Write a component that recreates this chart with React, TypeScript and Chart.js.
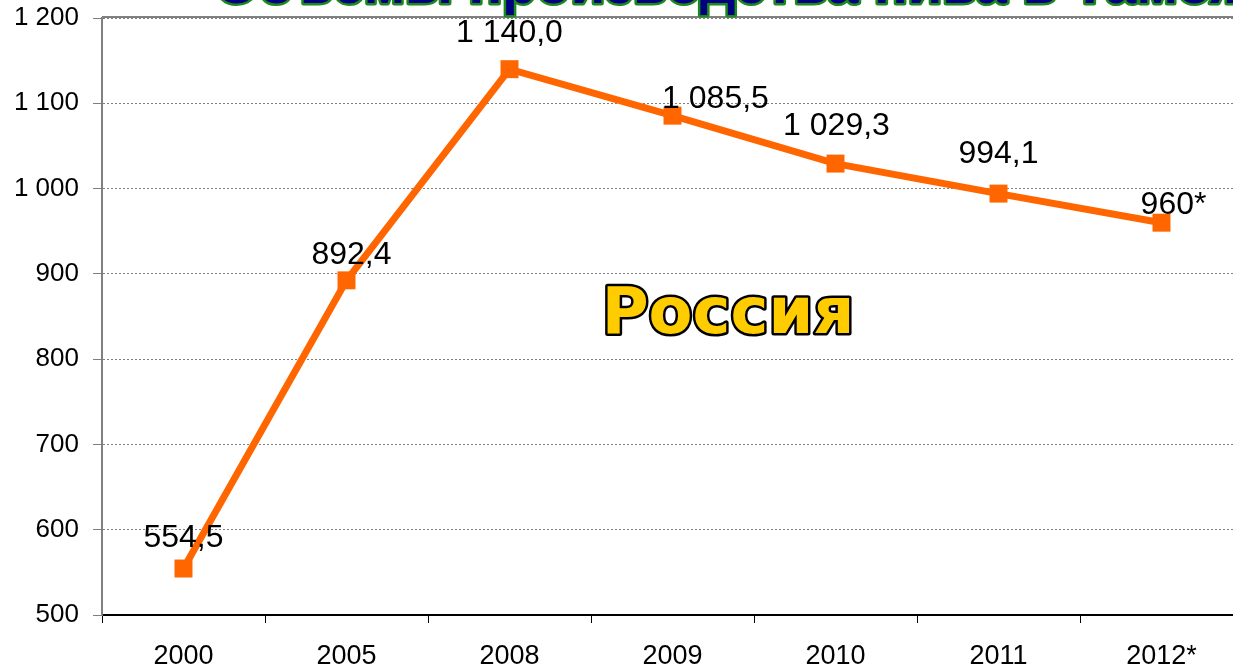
import React, { useEffect, useRef } from "react";
import { Chart, registerables } from "chart.js";

Chart.register(...registerables);

const categories = ["2000", "2005", "2008", "2009", "2010", "2011", "2012*"];
const production = [554.5, 892.4, 1140.0, 1085.5, 1029.3, 994.1, 960];
const valueLabels = ["554,5", "892,4", "1 140,0", "1 085,5", "1 029,3", "994,1", "960*"];
const labelShift: [number, number][] = [
  [0, -30],
  [5, -25],
  [0, -36],
  [43, -16],
  [1, -37],
  [0, -39],
  [12, -18],
];
const yTicks = [500, 600, 700, 800, 900, 1000, 1100, 1200];
const titleText = "Объемы производства пива в Таможенном союзе";
const regionText = "Россия";

const FONT = "'Liberation Sans', Arial, sans-serif";

const decorPlugin = {
  id: "decor",
  afterDatasetsDraw(chart: any) {
    const ctx = chart.ctx;
    const meta = chart.getDatasetMeta(0);
    const area = chart.chartArea;
    ctx.save();
    // top border line
    ctx.strokeStyle = "#808080";
    ctx.lineWidth = 2;
    ctx.beginPath();
    ctx.moveTo(area.left, area.top - 1);
    ctx.lineTo(area.right, area.top - 1);
    ctx.stroke();
    // data labels
    ctx.fillStyle = "#000";
    ctx.font = `32px ${FONT}`;
    ctx.textAlign = "center";
    ctx.textBaseline = "middle";
    meta.data.forEach((pt: any, i: number) => {
      const [dx, dy] = labelShift[i];
      ctx.fillText(valueLabels[i], pt.x + dx, pt.y + dy);
    });
    // region label
    ctx.font = `bold 64px 'DejaVu Sans', Verdana, sans-serif`;
    ctx.lineJoin = "round";
    ctx.lineWidth = 5;
    ctx.strokeStyle = "#000";
    ctx.fillStyle = "#FFCC00";
    const rx = 728;
    const ry = 316;
    ctx.strokeText(regionText, rx, ry);
    ctx.fillText(regionText, rx, ry);
    // title (mostly cut off above the page)
    ctx.font = `bold 56px ${FONT}`;
    ctx.textAlign = "left";
    ctx.textBaseline = "alphabetic";
    ctx.lineWidth = 5;
    ctx.strokeStyle = "#1a8a1a";
    ctx.fillStyle = "#000080";
    ctx.strokeText(titleText, 215, 3);
    ctx.fillText(titleText, 215, 3);
    ctx.restore();
  },
};

export default function App() {
  const ref = useRef<HTMLCanvasElement>(null);
  useEffect(() => {
    if (!ref.current) return;
    const chart = new Chart(ref.current, {
      type: "line",
      data: {
        labels: categories,
        datasets: [
          {
            data: production,
            borderColor: "#FF6600",
            backgroundColor: "#FF6600",
            borderWidth: 7,
            pointStyle: "rect",
            pointRadius: 12.7,
            pointHoverRadius: 12.7,
            pointBorderWidth: 0,
            tension: 0,
            clip: false,
          },
        ],
      },
      options: {
        animation: false,
        responsive: false,
        maintainAspectRatio: false,
        layout: { autoPadding: false, padding: { top: 18, bottom: 0, left: 0, right: 0 } },
        plugins: { legend: { display: false }, tooltip: { enabled: false } },
        scales: {
          x: {
            offset: true,
            grid: {
              offset: true,
              drawOnChartArea: false,
              drawTicks: true,
              tickLength: 8,
              color: "#000",
              lineWidth: 1,
            },
            border: { display: true, color: "#000", width: 2 },
            ticks: {
              color: "#000",
              font: { size: 27, family: FONT },
              padding: 17,
              maxRotation: 0,
              autoSkip: false,
            },
            afterFit: (axis: any) => {
              axis.height = 55;
              axis.paddingLeft = 0;
              axis.paddingRight = 0;
            },
          },
          y: {
            min: 500,
            max: 1200,
            afterBuildTicks: (axis: any) => {
              axis.ticks = yTicks.map((v) => ({ value: v }));
            },
            grid: {
              color: "#7f7f7f",
              lineWidth: 1,
              tickLength: 9,
            },
            border: { display: true, color: "#808080", width: 2, dash: [2, 2] },
            ticks: {
              color: "#000",
              font: { size: 26, family: FONT },
              padding: 14,
              callback: (v: any) => {
                const n = Number(v);
                return n >= 1000 ? `${Math.floor(n / 1000)} ${String(n % 1000).padStart(3, "0")}` : String(n);
              },
            },
            afterFit: (axis: any) => {
              axis.width = 102;
              axis.paddingTop = 0;
              axis.paddingBottom = 0;
            },
          },
        },
      },
      plugins: [decorPlugin],
    });
    return () => chart.destroy();
  }, []);
  return (
    <div
      style={{
        position: "fixed",
        left: 0,
        top: 0,
        width: 1233,
        height: 670,
        overflow: "hidden",
        background: "#fff",
      }}
    >
      <div style={{ width: 1243, height: 670 }}>
        <canvas ref={ref} width={1243} height={670} style={{ display: "block", width: 1243, height: 670 }} />
      </div>
    </div>
  );
}
